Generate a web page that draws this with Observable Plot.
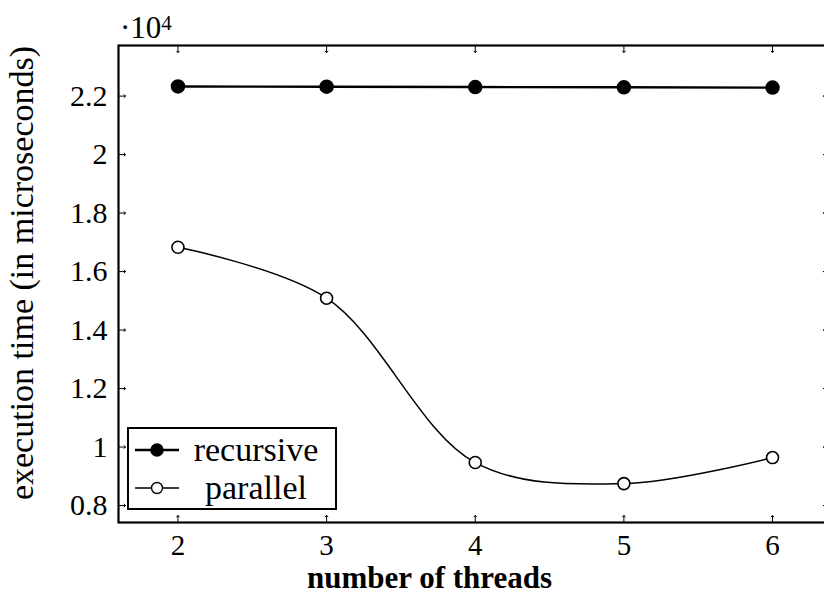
<!DOCTYPE html>
<html><head><meta charset="utf-8">
<script src="https://cdn.jsdelivr.net/npm/d3@7"></script>
<script src="https://cdn.jsdelivr.net/npm/@observablehq/plot@0.6"></script>
<style>
body{margin:0;background:#fff;}
#wrap{position:relative;width:824px;height:597px;overflow:hidden;font-family:"Liberation Serif","Times New Roman",serif;color:#000;}
#mult{position:absolute;left:120px;top:10px;font-size:31px;line-height:36px;}
#mult sup{font-size:21px;vertical-align:top;position:relative;top:-5px;}
#legend{position:absolute;left:127px;top:427px;width:206px;height:79px;border:2px solid #000;background:#fff;}
.row{position:absolute;left:0;width:206px;height:38px;}
.row svg{position:absolute;left:6px;top:0;}
.row span{position:absolute;left:52px;width:150px;text-align:center;font-size:34px;line-height:38px;}
</style></head>
<body><div id="wrap"></div>
<script>
// data (execution time in microseconds)
const threads = [2, 3, 4, 5, 6];
const recursive = [22330, 22320, 22310, 22300, 22290];
const parallel = [16830, 15090, 9470, 8750, 9640];
const xTicks = [2, 3, 4, 5, 6];
const yTicks = [8000, 10000, 12000, 14000, 16000, 18000, 20000, 22000];
const seriesNames = ["recursive", "parallel"];

const recData = threads.map((t, i) => ({t, v: recursive[i]}));
const parData = threads.map((t, i) => ({t, v: parallel[i]}));

const font = '"Liberation Serif","Times New Roman",serif';

const chart = Plot.plot({
  width: 824,
  height: 597,
  marginLeft: 118,
  marginRight: -6,
  marginTop: 45,
  marginBottom: 75,
  style: {fontFamily: font, background: "#fff", color: "#000"},
  x: {domain: [1.6, 6.39]},
  y: {domain: [7420, 23730]},
  marks: [
    // inward tick marks on all sides
    Plot.vector(yTicks, {y: d => d, frameAnchor: "left", length: 7, rotate: 90, anchor: "start", strokeWidth: 1}),
    Plot.vector(yTicks, {y: d => d, frameAnchor: "right", length: 7, rotate: -90, anchor: "start", strokeWidth: 1}),
    Plot.vector(xTicks, {x: d => d, frameAnchor: "bottom", length: 7, rotate: 0, anchor: "start", strokeWidth: 1}),
    Plot.vector(xTicks, {x: d => d, frameAnchor: "top", length: 7, rotate: 180, anchor: "start", strokeWidth: 1}),
    Plot.axisY({ticks: yTicks, tickSize: 0, tickPadding: 11, tickFormat: d => String(d / 1e4), fontSize: 30, fontFamily: font, label: null}),
    Plot.axisX({ticks: xTicks, tickSize: 0, tickPadding: 12, tickFormat: d => String(d), fontSize: 29, fontFamily: font, label: null}),
    Plot.frame({stroke: "#000", strokeWidth: 2.2}),
    // series
    Plot.line(recData, {x: "t", y: "v", stroke: "#000", strokeWidth: 2.4}),
    Plot.dot(recData, {x: "t", y: "v", r: 6.5, fill: "#000", stroke: "#000"}),
    Plot.line(parData, {x: "t", y: "v", stroke: "#000", strokeWidth: 1.5, curve: "catmull-rom"}),
    Plot.dot(parData, {x: "t", y: "v", r: 6, fill: "#fff", stroke: "#000", strokeWidth: 1.6}),
    // axis titles
    Plot.text(["execution time (in microseconds)"], {frameAnchor: "left", textAnchor: "middle", lineAnchor: "middle", dx: -96, dy: -11, rotate: -90, fontSize: 34, fontFamily: font, fill: "#000"}),
    Plot.text(["number of threads"], {frameAnchor: "bottom", textAnchor: "middle", lineAnchor: "middle", dx: -45, dy: 56, fontSize: 31, fontFamily: font, fontWeight: "bold", fill: "#000"})
  ]
});

const wrap = document.getElementById("wrap");
wrap.appendChild(chart);

const mult = document.createElement("div");
mult.id = "mult";
mult.innerHTML = "·10<sup>4</sup>";
wrap.appendChild(mult);

const legend = document.createElement("div");
legend.id = "legend";
seriesNames.forEach((name, i) => {
  const row = document.createElement("div");
  row.className = "row";
  row.style.top = (i * 38 + 2) + "px";
  const filled = i === 0;
  row.innerHTML = `<svg width="46" height="38"><line x1="0" x2="44" y1="19" y2="19" stroke="#000" stroke-width="${filled ? 2.4 : 1.4}"/><circle cx="22" cy="19" r="${filled ? 6 : 5.5}" fill="${filled ? "#000" : "#fff"}" stroke="#000" stroke-width="1.4"/></svg><span>${name}</span>`;
  legend.appendChild(row);
});
wrap.appendChild(legend);
</script>
</body></html>
